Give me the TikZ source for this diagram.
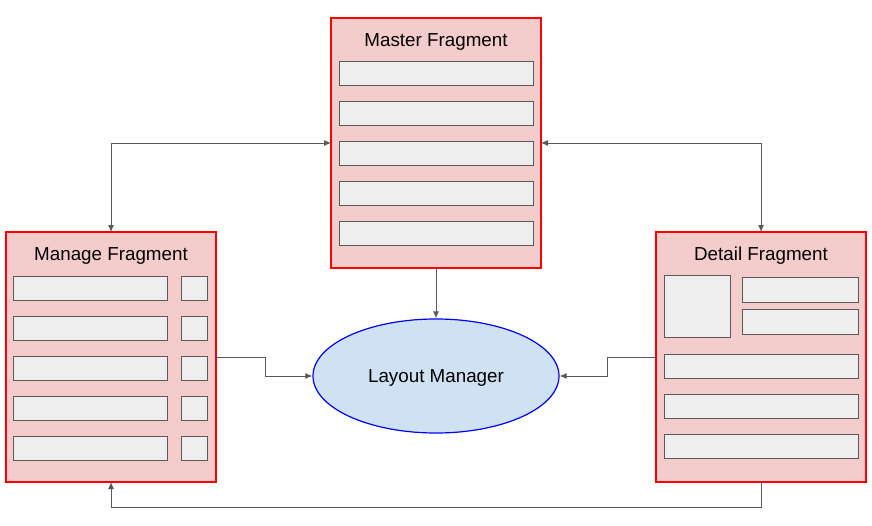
\documentclass[tikz,border=0pt]{standalone}
\usepackage{fontspec}
\setmainfont{Liberation Sans}
\usetikzlibrary{arrows.meta,shapes.geometric}
\definecolor{fragfill}{HTML}{F4CCCC}
\definecolor{fragline}{HTML}{FF0000}
\definecolor{rowfill}{HTML}{EEEEEE}
\definecolor{rowline}{HTML}{595959}
\definecolor{elfill}{HTML}{CFE2F3}
\definecolor{elline}{HTML}{0000FF}
\definecolor{conn}{HTML}{595959}
\begin{document}
\begin{tikzpicture}[x=1pt,y=-1pt,
  frag/.style={draw=fragline,fill=fragfill,line width=1.2pt},
  row/.style={draw=rowline,fill=rowfill,line width=1pt},
  title/.style={font=\fontsize{18.8}{22}\selectfont,anchor=center},
  link/.style={draw=conn,line width=1pt,{Latex[length=7pt,width=6pt]}-{Latex[length=7pt,width=6pt]}},
  onearrow/.style={draw=conn,line width=1pt,-{Latex[length=7pt,width=6pt]}}]
\useasboundingbox (0,0) rectangle (872,525);
% Master
\path[frag] (331,18) rectangle (541,268);
\node (mastertitle) at (436,41.5) [title] {Master Fragment};
\foreach \y in {61,101,141,181,221} \path[row] (339,\y) rectangle (533,\y+24);
\coordinate (mleft) at (331,143);
\coordinate (mright) at (541,143);
\coordinate (mbottom) at (436,268);
% Manage
\path[frag] (6,232) rectangle (216,482);
\node (managetitle) at (111,255.5) [title] {Manage Fragment};
\foreach \y in {276,316,356,396,436} {
  \path[row] (13,\y) rectangle (167,\y+24);
  \path[row] (181,\y) rectangle (207,\y+24);
}
\coordinate (atop) at (111,232);
\coordinate (abottom) at (111,482);
\coordinate (aright) at (216,357);
% Detail
\path[frag] (656,232) rectangle (866,482);
\node (detailtitle) at (761,255.5) [title] {Detail Fragment};
\path[row] (664,275) rectangle (730,337);
\path[row] (742,277) rectangle (858,302);
\path[row] (742,309) rectangle (858,334);
\foreach \y in {354,394,434} \path[row] (664,\y) rectangle (858,\y+24);
\coordinate (dtop) at (761,232);
\coordinate (dbottom) at (761,482);
\coordinate (dleft) at (656,357);
% Layout manager
\node (lm) at (436,376) [ellipse,draw=elline,fill=elfill,line width=1.2pt,
  minimum width=246pt,minimum height=114pt,inner sep=0pt] {};
\node (lmtext) at (436,377.5) [title] {Layout Manager};
% Connectors
\draw[link] (atop) -- (111,143) -- (mleft);
\draw[link] (dtop) -- (761,143) -- (mright);
\draw[onearrow] (mbottom) -- (lm.north);
\draw[onearrow] (aright) -- (265,357) -- (265,376) -- (lm.west);
\draw[onearrow] (dleft) -- (607,357) -- (607,376) -- (lm.east);
\draw[onearrow] (dbottom) -- (761,507) -- (111,507) -- (abottom);
\end{tikzpicture}
\end{document}
